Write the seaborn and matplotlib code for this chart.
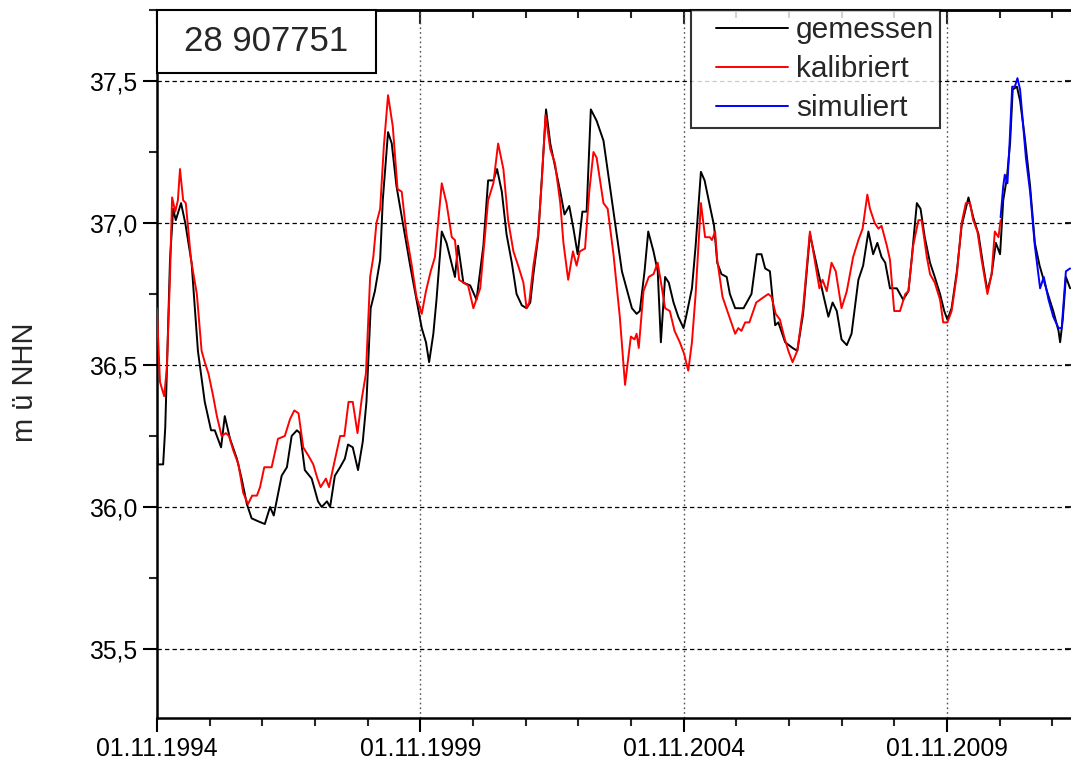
import numpy as np
import pandas as pd
import matplotlib
matplotlib.use("Agg")
import matplotlib.pyplot as plt
import matplotlib.ticker as mticker
from matplotlib.patches import Rectangle
from matplotlib.legend_handler import HandlerLine2D
import seaborn as sns

# ---------------- data (decimal years, m ü NHN) ----------------
gem_t = [1994.83, 1994.85, 1994.95, 1994.99, 1995.08, 1995.14, 1995.19, 1995.29, 1995.37, 1995.49,
         1995.61, 1995.74, 1995.86, 1995.93, 1996.05, 1996.12, 1996.22, 1996.35, 1996.44, 1996.54,
         1996.63, 1996.75, 1996.88, 1996.98, 1997.05, 1997.20, 1997.30, 1997.39, 1997.49, 1997.55,
         1997.64, 1997.77, 1997.89, 1997.96, 1998.06, 1998.12, 1998.21, 1998.31, 1998.40, 1998.46,
         1998.55, 1998.65, 1998.74, 1998.81, 1998.89, 1998.97, 1999.07, 1999.12, 1999.22, 1999.29,
         1999.38, 1999.50, 1999.64, 1999.76, 1999.86, 1999.94, 2000.00, 2000.08, 2000.14, 2000.24,
         2000.33, 2000.49, 2000.55, 2000.65, 2000.78, 2000.90, 2001.03, 2001.12, 2001.22, 2001.29,
         2001.38, 2001.47, 2001.57, 2001.66, 2001.76, 2001.85, 2001.92, 2001.98, 2002.07, 2002.14,
         2002.22, 2002.30, 2002.39, 2002.49, 2002.57, 2002.66, 2002.74, 2002.82, 2002.91, 2002.99,
         2003.07, 2003.18, 2003.31, 2003.47, 2003.66, 2003.85, 2003.94, 2004.00, 2004.09, 2004.16,
         2004.26, 2004.34, 2004.40, 2004.48, 2004.55, 2004.64, 2004.73, 2004.83, 2004.89, 2004.99,
         2005.06, 2005.16, 2005.23, 2005.33, 2005.41, 2005.47, 2005.55, 2005.65, 2005.71, 2005.81,
         2005.97, 2006.12, 2006.22, 2006.31, 2006.38, 2006.47, 2006.57, 2006.63, 2006.76, 2006.90,
         2006.99, 2007.10, 2007.23, 2007.36, 2007.48, 2007.58, 2007.66, 2007.74, 2007.83, 2007.93,
         2008.02, 2008.15, 2008.24, 2008.34, 2008.43, 2008.51, 2008.59, 2008.66, 2008.75, 2008.88,
         2008.94, 2009.00, 2009.10, 2009.16, 2009.26, 2009.33, 2009.41, 2009.51, 2009.60, 2009.70,
         2009.78, 2009.84, 2009.92, 2010.02, 2010.11, 2010.24, 2010.33, 2010.43, 2010.52, 2010.60,
         2010.68, 2010.76, 2010.84, 2010.90, 2010.97, 2011.03, 2011.08, 2011.16, 2011.22, 2011.31,
         2011.41, 2011.50, 2011.59, 2011.73, 2011.85, 2011.95, 2011.98, 2012.03, 2012.09, 2012.17]
gem_v = [36.24, 36.15, 36.15, 36.28, 36.87, 37.05, 37.01, 37.07, 37.00, 36.86,
         36.55, 36.37, 36.27, 36.27, 36.21, 36.32, 36.24, 36.17, 36.10, 36.01,
         35.96, 35.95, 35.94, 36.00, 35.97, 36.11, 36.14, 36.25, 36.27, 36.26,
         36.13, 36.10, 36.02, 36.00, 36.02, 36.00, 36.11, 36.14, 36.17, 36.22,
         36.21, 36.13, 36.23, 36.37, 36.70, 36.76, 36.87, 37.08, 37.32, 37.28,
         37.13, 37.00, 36.85, 36.73, 36.63, 36.58, 36.51, 36.61, 36.73, 36.97,
         36.93, 36.81, 36.92, 36.79, 36.78, 36.73, 36.92, 37.15, 37.15, 37.19,
         37.11, 36.96, 36.86, 36.75, 36.71, 36.70, 36.72, 36.82, 36.95, 37.16,
         37.40, 37.28, 37.20, 37.11, 37.03, 37.06, 36.98, 36.89, 37.04, 37.04,
         37.40, 37.36, 37.29, 37.08, 36.83, 36.70, 36.68, 36.69, 36.83, 36.97,
         36.90, 36.83, 36.58, 36.81, 36.79, 36.72, 36.67, 36.63, 36.68, 36.77,
         36.92, 37.18, 37.15, 37.06, 36.99, 36.86, 36.82, 36.81, 36.75, 36.70,
         36.70, 36.75, 36.89, 36.89, 36.84, 36.83, 36.64, 36.65, 36.58, 36.56,
         36.55, 36.68, 36.96, 36.85, 36.75, 36.67, 36.72, 36.69, 36.59, 36.57,
         36.61, 36.80, 36.85, 36.97, 36.89, 36.93, 36.88, 36.86, 36.77, 36.77,
         36.75, 36.73, 36.76, 36.87, 37.07, 37.05, 36.95, 36.86, 36.81, 36.75,
         36.69, 36.66, 36.70, 36.83, 36.99, 37.09, 37.02, 36.96, 36.85, 36.76,
         36.82, 36.93, 36.89, 37.08, 37.16, 37.28, 37.47, 37.48, 37.43, 37.30,
         37.13, 36.93, 36.85, 36.76, 36.69, 36.62, 36.58, 36.66, 36.81, 36.77]

kal_t = [1994.83, 1994.89, 1994.97, 1995.02, 1995.08, 1995.12, 1995.18, 1995.23, 1995.27, 1995.33,
         1995.38, 1995.48, 1995.59, 1995.68, 1995.74, 1995.81, 1995.90, 1995.97, 1996.06, 1996.14,
         1996.20, 1996.28, 1996.38, 1996.47, 1996.56, 1996.64, 1996.73, 1996.79, 1996.87, 1997.01,
         1997.13, 1997.26, 1997.36, 1997.44, 1997.52, 1997.61, 1997.71, 1997.80, 1997.88, 1997.94,
         1998.04, 1998.10, 1998.18, 1998.31, 1998.39, 1998.47, 1998.55, 1998.64, 1998.72, 1998.80,
         1998.88, 1998.94, 1999.00, 1999.07, 1999.14, 1999.22, 1999.31, 1999.40, 1999.48, 1999.57,
         1999.67, 1999.76, 1999.86, 1999.94, 2000.03, 2000.11, 2000.24, 2000.33, 2000.43, 2000.49,
         2000.57, 2000.65, 2000.74, 2000.84, 2000.97, 2001.12, 2001.22, 2001.31, 2001.41, 2001.50,
         2001.60, 2001.69, 2001.79, 2001.85, 2001.90, 2001.98, 2002.07, 2002.14, 2002.21, 2002.30,
         2002.39, 2002.49, 2002.55, 2002.64, 2002.73, 2002.80, 2002.86, 2002.96, 2003.04, 2003.12,
         2003.18, 2003.31, 2003.39, 2003.50, 2003.62, 2003.72, 2003.83, 2003.90, 2003.94, 2003.98,
         2004.07, 2004.17, 2004.26, 2004.34, 2004.42, 2004.48, 2004.57, 2004.66, 2004.76, 2004.84,
         2004.92, 2004.99, 2005.06, 2005.16, 2005.24, 2005.33, 2005.37, 2005.43, 2005.47, 2005.57,
         2005.68, 2005.81, 2005.87, 2005.93, 2006.00, 2006.08, 2006.21, 2006.36, 2006.44, 2006.50,
         2006.58, 2006.66, 2006.74, 2006.82, 2006.90, 2006.99, 2007.10, 2007.23, 2007.33, 2007.41,
         2007.47, 2007.55, 2007.64, 2007.72, 2007.83, 2007.93, 2008.05, 2008.15, 2008.23, 2008.32,
         2008.37, 2008.46, 2008.53, 2008.59, 2008.69, 2008.75, 2008.83, 2008.94, 2009.04, 2009.10,
         2009.19, 2009.29, 2009.35, 2009.45, 2009.51, 2009.60, 2009.70, 2009.76, 2009.84, 2009.92,
         2010.02, 2010.11, 2010.19, 2010.27, 2010.33, 2010.41, 2010.49, 2010.60, 2010.68, 2010.74,
         2010.81, 2010.85]
kal_v = [36.70, 36.44, 36.39, 36.49, 36.81, 37.09, 37.04, 37.08, 37.19, 37.08,
         37.07, 36.87, 36.75, 36.55, 36.51, 36.47, 36.39, 36.32, 36.25, 36.26,
         36.25, 36.20, 36.15, 36.05, 36.01, 36.04, 36.04, 36.07, 36.14, 36.14,
         36.24, 36.25, 36.31, 36.34, 36.33, 36.21, 36.18, 36.15, 36.10, 36.07,
         36.10, 36.07, 36.14, 36.25, 36.25, 36.37, 36.37, 36.26, 36.38, 36.47,
         36.81, 36.88, 37.00, 37.05, 37.27, 37.45, 37.34, 37.12, 37.11, 36.96,
         36.85, 36.74, 36.68, 36.76, 36.83, 36.88, 37.14, 37.07, 36.95, 36.94,
         36.80, 36.79, 36.78, 36.70, 36.77, 37.08, 37.14, 37.28, 37.19, 37.01,
         36.90, 36.85, 36.79, 36.70, 36.72, 36.85, 36.96, 37.15, 37.38, 37.26,
         37.21, 37.07, 36.93, 36.80, 36.90, 36.85, 36.90, 36.91, 37.11, 37.25,
         37.23, 37.07, 37.05, 36.89, 36.67, 36.43, 36.60, 36.59, 36.61, 36.56,
         36.76, 36.81, 36.82, 36.86, 36.77, 36.70, 36.69, 36.62, 36.58, 36.54,
         36.48, 36.58, 36.75, 37.07, 36.95, 36.95, 36.94, 36.97, 36.87, 36.74,
         36.68, 36.61, 36.63, 36.62, 36.65, 36.65, 36.72, 36.74, 36.75, 36.74,
         36.68, 36.66, 36.60, 36.55, 36.51, 36.55, 36.70, 36.97, 36.86, 36.77,
         36.80, 36.76, 36.86, 36.83, 36.70, 36.76, 36.88, 36.94, 36.98, 37.10,
         37.05, 37.00, 36.98, 36.99, 36.92, 36.87, 36.69, 36.69, 36.75, 36.76,
         36.92, 37.01, 37.01, 36.88, 36.82, 36.79, 36.73, 36.65, 36.65, 36.69,
         36.82, 37.00, 37.07, 37.07, 37.01, 36.97, 36.87, 36.75, 36.82, 36.97,
         36.95, 37.01]

sim_t = [2010.85, 2010.90, 2010.93, 2010.98, 2011.02, 2011.07, 2011.12, 2011.17, 2011.22, 2011.28,
         2011.33, 2011.41, 2011.50, 2011.60, 2011.67, 2011.76, 2011.85, 2011.95, 2012.01, 2012.09,
         2012.17]
sim_v = [37.02, 37.13, 37.17, 37.14, 37.28, 37.48, 37.48, 37.51, 37.47, 37.34,
         37.23, 37.11, 36.92, 36.77, 36.81, 36.73, 36.67, 36.63, 36.63, 36.83,
         36.84]

series_names = ["gemessen", "kalibriert", "simuliert"]
series_colors = ["#000000", "#ff0000", "#0000ff"]
major_years = [1994, 1999, 2004, 2009]
station_label = "28 907751"
y_label = "m ü NHN"

# ---------------- style ----------------
sns.set_style("ticks")
plt.rcParams["font.family"] = ["Liberation Sans", "DejaVu Sans"]

W, H = 1071, 767
fig = plt.figure(figsize=(W / 100, H / 100), dpi=100)
ax_left, ax_right, ax_top, ax_bot = 157, 1079, 10, 718
ax = fig.add_axes([ax_left / W, 1 - ax_bot / H, (ax_right - ax_left) / W, (ax_bot - ax_top) / H])

OFF = 10 / 12  # 1st of November
df = pd.concat([
    pd.DataFrame({"t": gem_t, "v": gem_v, "s": series_names[0]}),
    pd.DataFrame({"t": kal_t, "v": kal_v, "s": series_names[1]}),
    pd.DataFrame({"t": sim_t, "v": sim_v, "s": series_names[2]}),
])
for name, col in zip(series_names, series_colors):
    sub = df[df["s"] == name]
    sns.lineplot(data=sub, x="t", y="v", color=col, linewidth=1.4, ax=ax,
                 label=name, estimator=None, sort=False, zorder=3)

x0 = 1994 + OFF
x1 = x0 + (ax_right - ax_left) / 52.67
ax.set_xlim(x0, x1)
ax.set_ylim(35.257, 37.75)

majors = [y + OFF for y in major_years]
ax.xaxis.set_major_locator(mticker.FixedLocator(majors))
ax.xaxis.set_minor_locator(mticker.FixedLocator([y + OFF for y in range(1994, 2013)]))
ax.xaxis.set_major_formatter(mticker.FuncFormatter(lambda x, p: f"01.11.{int(round(x - OFF))}"))
ax.yaxis.set_major_locator(mticker.MultipleLocator(0.5))
ax.yaxis.set_minor_locator(mticker.MultipleLocator(0.25))
ax.yaxis.set_major_formatter(mticker.FuncFormatter(lambda v, p: f"{v:.1f}".replace(".", ",")))

ax.set_xlabel("")
ax.set_ylabel("")
ax.tick_params(axis="both", which="major", direction="out", length=10, width=1.5,
               labelsize=17.8, colors="black", pad=4)
ax.tick_params(axis="both", which="minor", direction="out", length=6, width=1.5)

for sp in ax.spines.values():
    sp.set_visible(True)
    sp.set_linewidth(1.8)
    sp.set_color("black")

# top / right inward ticks
secx = ax.secondary_xaxis("top")
secx.xaxis.set_major_locator(mticker.FixedLocator(majors))
secx.xaxis.set_minor_locator(mticker.FixedLocator([y + OFF for y in range(1994, 2013)]))
secx.tick_params(which="major", direction="in", length=10, width=1.5, labeltop=False)
secx.tick_params(which="minor", direction="in", length=6, width=1.5)
secx.spines["top"].set_linewidth(1.8)
secy = ax.secondary_yaxis("right")
secy.yaxis.set_major_locator(mticker.MultipleLocator(0.5))
secy.yaxis.set_minor_locator(mticker.MultipleLocator(0.25))
secy.tick_params(which="major", direction="in", length=10, width=1.5, labelright=False)
secy.tick_params(which="minor", direction="in", length=6, width=1.5)
secy.spines["right"].set_linewidth(1.8)

# grids
for yv in [35.5, 36.0, 36.5, 37.0, 37.5]:
    ax.axhline(yv, color="black", lw=0.9, ls=(0, (3.5, 2.5)), zorder=1)
for xv in majors[1:]:
    ax.axvline(xv, color="#555555", lw=1.0, ls=(0, (1.2, 2.2)), zorder=1)


# legend with an inset handle line
class InsetLine(HandlerLine2D):
    def __init__(self, inset, **kw):
        super().__init__(**kw)
        self.inset = inset

    def get_xdata(self, legend, xdescent, ydescent, width, height, fontsize):
        xd = np.array([-xdescent + self.inset, -xdescent + width])
        return xd, np.array([-xdescent + 0.5 * width])


leg_fs = 21.5
handles, labels = ax.get_legend_handles_labels()
leg = ax.legend(handles, labels, loc="upper left",
                bbox_to_anchor=((691 - ax_left) / (ax_right - ax_left), 1.0),
                borderaxespad=0, fontsize=leg_fs, frameon=True, fancybox=False,
                handlelength=3.05, handletextpad=0.27, labelspacing=0.37, borderpad=0.2,
                handler_map={h: InsetLine(14.0) for h in handles})
leg.get_frame().set_edgecolor("black")
leg.get_frame().set_linewidth(1.5)
leg.set_zorder(6)
for ln in leg.get_lines():
    ln.set_linewidth(1.4)

# station box
bw = (376 - ax_left) / (ax_right - ax_left)
bh = (73 - ax_top) / (ax_bot - ax_top)
ax.add_patch(Rectangle((0, 1 - bh), bw, bh, transform=ax.transAxes, facecolor="white",
                       edgecolor="black", lw=1.5, zorder=6, clip_on=False))
ax.text(bw / 2, 1 - bh / 2, station_label, transform=ax.transAxes, ha="center", va="center",
        fontsize=25, zorder=7)

fig.text(25 / W, 1 - 382 / H, y_label, rotation=90, ha="center", va="center", fontsize=21)

fig.savefig("out.png", dpi=100)
